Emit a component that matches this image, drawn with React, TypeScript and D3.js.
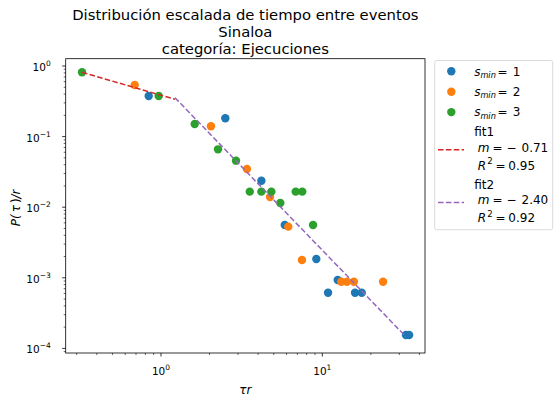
import React from "react";
import * as d3 from "d3";

// s_min = 1 (blue)
const s1X = [0.839, 2.504, 4.19, 5.85, 9.18, 10.85, 12.46, 15.95, 17.55, 33.0, 34.5];
const s1Y = [0.376, 0.1816, 0.0237, 0.0056, 0.001846, 0.000615, 0.000931, 0.000615, 0.000615, 0.000155, 0.000155];
// s_min = 2 (orange)
const s2X = [0.687, 2.04, 3.41, 4.74, 6.15, 7.48, 13.12, 14.2, 15.7, 23.8];
const s2Y = [0.538, 0.14, 0.0348, 0.01395, 0.0053, 0.00179, 0.00088, 0.00088, 0.00088, 0.00088];
// s_min = 3 (green)
const s3X = [0.324, 0.968, 1.618, 2.256, 2.917, 3.55, 4.19, 4.83, 5.49, 6.84, 7.51, 8.76];
const s3Y = [0.814, 0.376, 0.151, 0.066, 0.0456, 0.0166, 0.0166, 0.0166, 0.01147, 0.0166, 0.0166, 0.0056];
// fit lines (endpoints)
const fit1X = [0.324, 1.22];
const fit1Y = [0.814, 0.3375];
const fit2X = [1.22, 33.0];
const fit2Y = [0.356, 0.000146];

const xTicks = [1, 10];
const yTicks = [1, 0.1, 0.01, 0.001, 0.0001];
const titleLines = ["Distribución escalada de tiempo entre eventos", "Sinaloa", "categoría: Ejecuciones"];
const seriesLabels = ["1", "2", "3"];
const fitLabels = [
  { name: "fit1", m: "0.71", r2: "0.95" },
  { name: "fit2", m: "2.40", r2: "0.92" },
];

const COLORS = ["#1f77b4", "#ff7f0e", "#2ca02c"];
const FIT_COLORS = ["#d62728", "#9467bd"];
const FONT = "DejaVu Sans";

export default function App() {
  const W = 555, H = 402;
  const L = 65.7, R = 425, T = 58.7, B = 353;
  const x = d3.scaleLog().domain([0.2566, 43.3]).range([L, R]);
  const y = d3.scaleLog().domain([1.269, 8.6e-5]).range([T, B]);

  const series = [
    { xs: s1X, ys: s1Y, c: COLORS[0] },
    { xs: s2X, ys: s2Y, c: COLORS[1] },
    { xs: s3X, ys: s3Y, c: COLORS[2] },
  ];
  const fits = [
    { xs: fit1X, ys: fit1Y, c: FIT_COLORS[0] },
    { xs: fit2X, ys: fit2Y, c: FIT_COLORS[1] },
  ];
  const line = d3.line<[number, number]>().x((d) => x(d[0])).y((d) => y(d[1]));

  const [x0, x1] = x.domain();
  const xMinor: number[] = [];
  for (let e = -1; e <= 2; e++) for (let k = 2; k < 10; k++) {
    const v = k * Math.pow(10, e);
    if (v >= x0 && v <= x1) xMinor.push(v);
  }
  const yMinor: number[] = [];
  for (let e = -5; e <= 0; e++) for (let k = 2; k < 10; k++) {
    const v = k * Math.pow(10, e);
    if (v >= 8.6e-5 && v <= 1.269) yMinor.push(v);
  }

  const exp = (v: number) => Math.round(Math.log10(v));
  const fmtExp = (n: number) => (n < 0 ? "\u2212" + Math.abs(n) : String(n));
  const LF = 12;

  return (
    <svg width={W} height={H} style={{ position: "absolute", left: 0, top: 0, background: "#fff" }} fontFamily={FONT}>
      <rect x={0} y={0} width={W} height={H} fill="#fff" />
      {/* title */}
      {titleLines.map((t, i) => (
        <text key={i} x={(L + R) / 2} y={19.8 + i * 16.9} fontSize={14.8} textAnchor="middle" fill="#000">{t}</text>
      ))}
      {/* points */}
      {series.map((s, si) => (
        <g key={si}>
          {s.xs.map((xv, i) => (
            <circle key={i} cx={x(xv)} cy={y(s.ys[i])} r={4.2} fill={s.c} />
          ))}
        </g>
      ))}
      {/* fits */}
      {fits.map((f, fi) => (
        <path key={fi} d={line(f.xs.map((v, i) => [v, f.ys[i]]) as [number, number][]) || ""} fill="none" stroke={f.c} strokeWidth={1.5} strokeDasharray="5.5,2.4" />
      ))}
      {/* frame */}
      <rect x={L} y={T} width={R - L} height={B - T} fill="none" stroke="#000" strokeWidth={0.8} />
      {/* x ticks */}
      {xMinor.map((v, i) => (
        <line key={"xm" + i} x1={x(v)} x2={x(v)} y1={B} y2={B + 2} stroke="#000" strokeWidth={0.6} />
      ))}
      {xTicks.map((v, i) => (
        <g key={"xt" + i}>
          <line x1={x(v)} x2={x(v)} y1={B} y2={B + 3.5} stroke="#000" strokeWidth={0.8} />
          <text x={x(v)} y={375} fontSize={10.5} textAnchor="middle" fill="#000">
            10<tspan dy={-5} fontSize={7.5}>{fmtExp(exp(v))}</tspan>
          </text>
        </g>
      ))}
      {/* y ticks */}
      {yMinor.map((v, i) => (
        <line key={"ym" + i} x1={L} x2={L - 2} y1={y(v)} y2={y(v)} stroke="#000" strokeWidth={0.6} />
      ))}
      {yTicks.map((v, i) => (
        <g key={"yt" + i}>
          <line x1={L} x2={L - 3.5} y1={y(v)} y2={y(v)} stroke="#000" strokeWidth={0.8} />
          <text x={L - 15} y={y(v) + 5} fontSize={10.5} textAnchor="end" fill="#000">
            10<tspan dy={-5} fontSize={7.5}>{fmtExp(exp(v))}</tspan>
          </text>
        </g>
      ))}
      {/* axis labels */}
      <text x={(L + R) / 2} y={394} fontSize={12} textAnchor="middle" fontStyle="italic" fill="#000">τr</text>
      <text transform={`translate(20,${(T + B) / 2 + 2}) rotate(-90)`} fontSize={12} textAnchor="middle" fontStyle="italic" fill="#000">
        P(<tspan dx={2}>τ</tspan><tspan dx={2} fontStyle="normal">)</tspan>/r
      </text>
      {/* legend */}
      <rect x={434.7} y={60.5} width={118} height={169.2} rx={2} fill="#fff" stroke="#d0d0d0" strokeWidth={0.8} />
      {seriesLabels.map((s, i) => {
        const cy = 71.3 + i * 20.4;
        return (
          <g key={"lg" + i}>
            <circle cx={451.3} cy={cy} r={4.2} fill={COLORS[i]} />
            <text x={474.3} y={cy + 4.3} fontSize={LF} fontStyle="italic" fill="#000">s</text>
            <text x={480.4} y={cy + 6.5} fontSize={8.2} fontStyle="italic" fill="#000">min</text>
            <text x={497.5} y={cy + 4.3} fontSize={LF} fill="#000">=</text>
            <text x={512.8} y={cy + 4.3} fontSize={LF} fill="#000">{s}</text>
          </g>
        );
      })}
      {fitLabels.map((f, i) => {
        const top = 132 + i * 52.6;
        return (
          <g key={"lf" + i}>
            <line x1={438} x2={464} y1={top + 17.8} y2={top + 17.8} stroke={FIT_COLORS[i]} strokeWidth={1.5} strokeDasharray="5.5,2.4" />
            <text x={474.3} y={top + 4.3} fontSize={LF} fill="#000">{f.name}</text>
            <text x={477.8} y={top + 15.5 + 4.3} fontSize={LF} fontStyle="italic" fill="#000">m</text>
            <text x={492.5} y={top + 15.5 + 4.3} fontSize={LF} fill="#000">=</text>
            <text x={506.5} y={top + 15.5 + 4.3} fontSize={LF} fill="#000">−</text>
            <text x={521.5} y={top + 15.5 + 4.3} fontSize={LF} fill="#000">{f.m}</text>
            <text x={477.8} y={top + 33.5 + 4.3} fontSize={LF} fontStyle="italic" fill="#000">R</text>
            <text x={487.3} y={top + 33.5 - 1.2} fontSize={8.6} fill="#000">2</text>
            <text x={495.5} y={top + 33.5 + 4.3} fontSize={LF} fill="#000">=</text>
            <text x={508.3} y={top + 33.5 + 4.3} fontSize={LF} fill="#000">{f.r2}</text>
          </g>
        );
      })}
    </svg>
  );
}
